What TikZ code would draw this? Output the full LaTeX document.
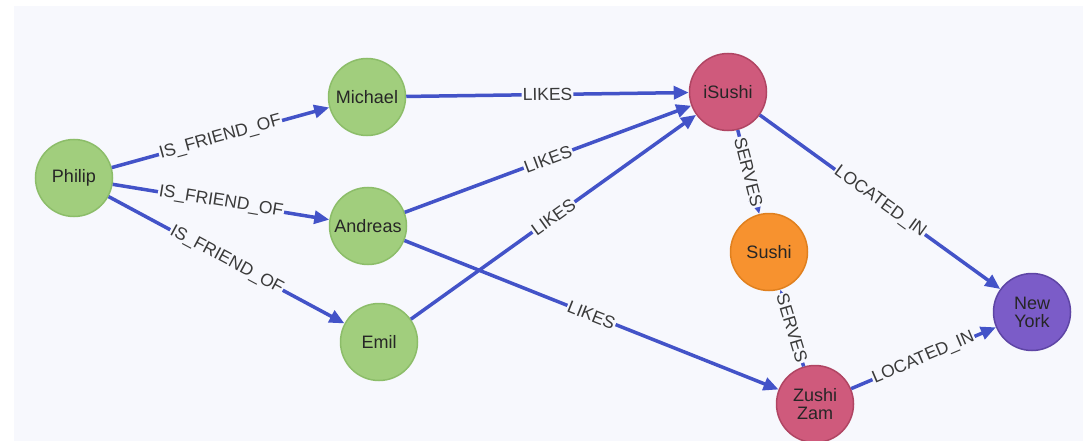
\documentclass[tikz,border=0pt]{standalone}
\usepackage{fontspec}
\setmainfont{Liberation Sans}
\usetikzlibrary{arrows.meta}

\definecolor{PaneBg}{HTML}{F7F8FD}
\definecolor{PersonFill}{HTML}{A1CE7D}
\definecolor{PersonDraw}{HTML}{8CBD69}
\definecolor{PlaceFill}{HTML}{CF5A7C}
\definecolor{PlaceDraw}{HTML}{B04563}
\definecolor{DishFill}{HTML}{F7922F}
\definecolor{DishDraw}{HTML}{E0801E}
\definecolor{CityFill}{HTML}{7B5CC8}
\definecolor{CityDraw}{HTML}{5E45A5}
\definecolor{RelBlue}{HTML}{4353C8}
\definecolor{LabelGray}{HTML}{3A3A3A}

\begin{document}
\begin{tikzpicture}[x=1pt,y=-1pt,
		entity/.style={circle, minimum size=77pt, inner sep=0pt, line width=1.5pt, align=center, text=black!85, font=\fontsize{18}{18}\selectfont},
		person/.style={entity, fill=PersonFill, draw=PersonDraw},
		place/.style={entity, fill=PlaceFill, draw=PlaceDraw},
		dish/.style={entity, fill=DishFill, draw=DishDraw},
		city/.style={entity, fill=CityFill, draw=CityDraw},
		rel/.style={draw=RelBlue, line width=3.5pt, -{Triangle[length=15pt,width=13pt]}},
		rellabel/.style={sloped, midway, fill=PaneBg, inner sep=1pt, text=LabelGray, font=\fontsize{17.5}{18}\selectfont}]
			\useasboundingbox (0,0) rectangle (1089,441);
			\fill[PaneBg] (14,6) rectangle (1083,441);
			
			% PEOPLE
			\node[person] (philip) at (74,178) {Philip};
			\node[person] (michael) at (367,97) {Michael};
			\node[person] (andreas) at (368,226) {Andreas};
			\node[person] (emil) at (379,342) {Emil};
			
			% RESTAURANTS
			\node[place] (isushi) at (728,92) {iSushi};
			\node[place] (zushizam) at (815,404) {Zushi\\Zam};
			
			% FOOD AND CITY
			\node[dish] (sushi) at (769,252) {Sushi};
			\node[city] (newyork) at (1032,312) {New\\York};
			
			% FRIENDS
			\draw[rel] (philip) -- node[rellabel] {IS\_FRIEND\_OF} (michael);
			\draw[rel] (philip) -- node[rellabel] {IS\_FRIEND\_OF} (andreas);
			\draw[rel] (philip) -- node[rellabel] {IS\_FRIEND\_OF} (emil);
			
			% LIKES
			\draw[rel] (michael) -- node[rellabel] {LIKES} (isushi);
			\draw[rel] (andreas) -- node[rellabel] {LIKES} (isushi);
			\draw[rel] (emil) -- node[rellabel] {LIKES} (isushi);
			\draw[rel] (andreas) -- node[rellabel] {LIKES} (zushizam);
			
			% SERVES
			\draw[rel] (isushi) -- node[rellabel] {SERVES} (sushi);
			\draw[rel] (zushizam) -- node[rellabel] {SERVES} (sushi);
			
			% LOCATED
			\draw[rel] (isushi) -- node[rellabel] {LOCATED\_IN} (newyork);
			\draw[rel] (zushizam) -- node[rellabel] {LOCATED\_IN} (newyork);
		\end{tikzpicture}
\end{document}
